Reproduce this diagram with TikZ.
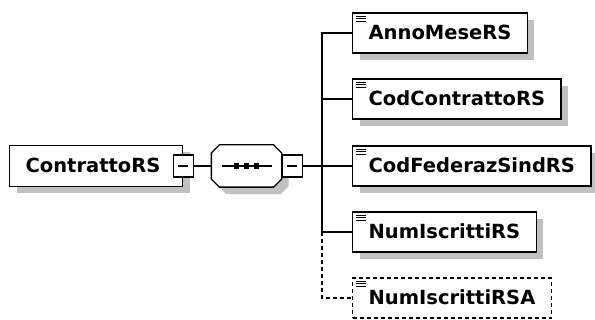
\documentclass[tikz,border=0pt]{standalone}
\usepackage{fontspec}
\newfontfamily\xsdfont{DejaVu Sans}
\usetikzlibrary{shadows}
\definecolor{XSDShadow}{HTML}{C0C0C0}

\begin{document}
\begin{tikzpicture}[x=1pt,y=-1pt,line width=1.3pt,
  boxshadow/.style={drop shadow={shadow xshift=7pt,shadow yshift=-7pt,fill=XSDShadow,opacity=1}},
  xsdbox/.style={draw,fill=white,anchor=west,minimum height=40pt,inner xsep=16pt,
    text height=14pt,text depth=0pt,font=\xsdfont\bfseries\fontsize{19.5}{23}\selectfont},
  elembox/.style={xsdbox,
    path picture={\foreach \dy in {3.5,6,8.5}
      \draw[solid,line width=1pt] ([xshift=3pt,yshift=-\dy*1pt]path picture bounding box.north west) -- ++(10,0);}},
  optbox/.style={elembox,dash pattern=on 4pt off 3pt},
  minusbox/.style={draw,fill=white,minimum width=20pt,minimum height=22pt,inner sep=0pt,
    path picture={\draw[line width=1.2pt] ([xshift=5pt]path picture bounding box.west) -- ([xshift=-5pt]path picture bounding box.east);}},
  seqbox/.style={rectangle,minimum width=69pt,minimum height=41pt,inner sep=0pt},
  octagon/.style={insert path={([xshift=8pt]#1.north west) -- ([xshift=-8pt]#1.north east)
    -- ([yshift=-8pt]#1.north east) -- ([yshift=8pt]#1.south east) -- ([xshift=-8pt]#1.south east)
    -- ([xshift=8pt]#1.south west) -- ([yshift=8pt]#1.south west) -- ([yshift=-8pt]#1.north west) -- cycle}}]
  \useasboundingbox (0,0) rectangle (595,320);

  \node[xsdbox,boxshadow,minimum height=41pt,text width=141pt,align=left] (ctr) at (9,166) {ContrattoRS};
  \node[minusbox] (ctrminus) at (ctr.east) {};

  % sequence compositor
  \node[seqbox] (seq) at (246.5,166) {};
  \fill[XSDShadow,transform canvas={xshift=7pt,yshift=-7pt},octagon=seq];
  \draw[fill=white,octagon=seq];
  \draw ([xshift=-25pt]seq.center) -- ([xshift=25pt]seq.center);
  \foreach \dx in {-10,0,10}
    \fill ([xshift=\dx*1pt]seq.center) +(-2.8,-2.8) rectangle +(2.8,2.8);
  \node[minusbox,anchor=west] (seqminus) at (seq.east) {};
  \coordinate (trk) at (322,166);

  \node[elembox,boxshadow] (anno) at (352,33) {AnnoMeseRS};
  \node[elembox,boxshadow] (codcon) at (352,99) {CodContrattoRS};
  \node[elembox,boxshadow] (codfed) at (352,166) {CodFederazSindRS};
  \node[elembox,boxshadow] (numisc) at (352,232) {NumIscrittiRS};
  \node[optbox] (numiscA) at (352,298) {NumIscrittiRSA};

  \draw (ctrminus.east) -- (seq.west);
  \draw (seqminus.east) -- (trk);
  \foreach \n in {anno,codcon,codfed,numisc}
    \draw (trk) |- (\n.west);
  \draw[dash pattern=on 4pt off 3pt] (trk |- numisc.west) |- (numiscA.west);
\end{tikzpicture}
\end{document}
